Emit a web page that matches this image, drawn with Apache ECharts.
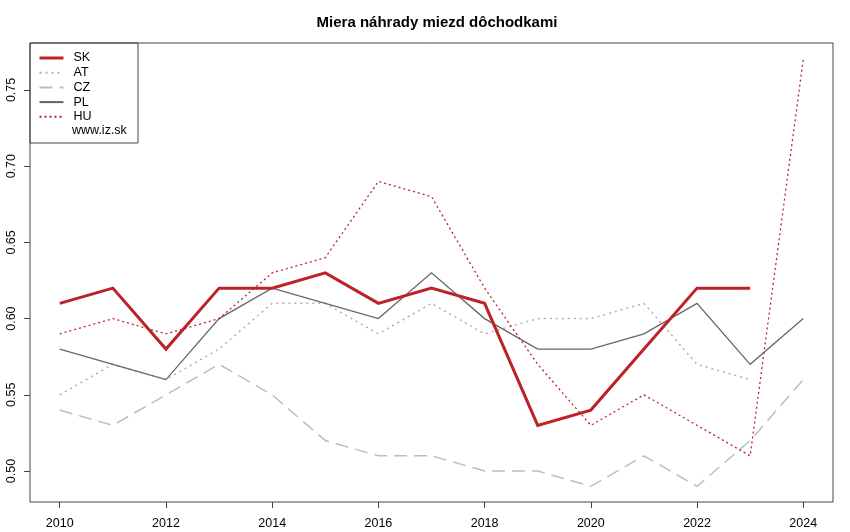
<!DOCTYPE html>
<html><head><meta charset="utf-8">
<script src="https://cdn.jsdelivr.net/npm/echarts@6/dist/echarts.min.js"></script>
<style>html,body{margin:0;padding:0;background:#fff}#c{width:850px;height:532px}</style>
</head><body><div id="c"></div>
<script>
const years = [2010,2011,2012,2013,2014,2015,2016,2017,2018,2019,2020,2021,2022,2023,2024];
const SK = [0.61,0.62,0.58,0.62,0.62,0.63,0.61,0.62,0.61,0.53,0.54,0.58,0.62,0.62,null];
const AT = [0.55,0.57,0.56,0.58,0.61,0.61,0.59,0.61,0.59,0.60,0.60,0.61,0.57,0.56,null];
const CZ = [0.54,0.53,0.55,0.57,0.55,0.52,0.51,0.51,0.50,0.50,0.49,0.51,0.49,0.52,0.56];
const PL = [0.58,0.57,0.56,0.60,0.62,0.61,0.60,0.63,0.60,0.58,0.58,0.59,0.61,0.57,0.60];
const HU = [0.59,0.60,0.59,0.60,0.63,0.64,0.69,0.68,0.62,0.57,0.53,0.55,0.53,0.51,0.77];
const xTicks = [2010,2012,2014,2016,2018,2020,2022,2024];
const yTicks = [0.50,0.55,0.60,0.65,0.70,0.75];
const title = 'Miera náhrady miezd dôchodkami';
const source = 'www.iz.sk';

const pair = arr => years.map((y,i)=>[y,arr[i]]);
const FONT = 'Liberation Sans, Arial, sans-serif';
const chart = echarts.init(document.getElementById('c'), null, {renderer:'canvas'});
function mk(name, data, color, width, type){
  return {name, type:'line', data:pair(data), showSymbol:false, symbol:'none', connectNulls:false,
    lineStyle:{color, width, type, cap:'butt', join:'miter'}, itemStyle:{color}, emphasis:{disabled:true}, z: name==='SK'?5:3};
}
chart.setOption({
  animation:false,
  backgroundColor:'#fff',
  title:{text:title, left:432, textAlign:'center', top:10,
    textStyle:{fontFamily:FONT, fontSize:15, fontWeight:'bold', color:'#000'}},
  grid:{left:30, right:17, top:43, bottom:30, show:true, borderColor:'#444', borderWidth:1, backgroundColor:'transparent'},
  xAxis:{type:'value', min:2009.44, max:2024.56,
    axisLine:{show:false}, splitLine:{show:false},
    axisTick:{show:true, customValues:xTicks, length:6, lineStyle:{color:'#444'}},
    axisLabel:{customValues:xTicks, fontFamily:FONT, fontSize:12.5, color:'#000', margin:15, formatter:v=>String(v)}},
  yAxis:{type:'value', min:0.4797, max:0.7808,
    axisLine:{show:false}, splitLine:{show:false},
    axisTick:{show:true, customValues:yTicks, length:6, lineStyle:{color:'#444'}},
    axisLabel:{customValues:yTicks, rotate:90, fontFamily:FONT, fontSize:12.5, color:'#000', margin:12,
      formatter:v=>v.toFixed(2)}},
  legend:{orient:'vertical', left:38, top:51, padding:0, itemWidth:24, itemHeight:8, itemGap:0.7, z:30,
    itemStyle:{opacity:0},
    data:[{name:'SK', lineStyle:{width:3}},'AT','CZ','PL','HU'],
    textStyle:{fontFamily:FONT, fontSize:12.5, lineHeight:14, color:'#000', padding:[0,0,0,5]}},
  graphic:[
    {type:'rect', shape:{x:30, y:43, width:108, height:100}, style:{fill:'#fff', stroke:'#444', lineWidth:1}, z:-1, silent:true},
    {type:'text', left:72, top:124, style:{text:source, fontFamily:FONT, fontSize:12.5, fill:'#000'}, z:12}
  ],
  series:[
    mk('SK', SK, '#bb2229', 3, 'solid'),
    mk('AT', AT, '#aeaeae', 1.5, [2,4]),
    mk('CZ', CZ, '#b9bec6', 1.5, [13,7]),
    mk('PL', PL, '#666666', 1.3, 'solid'),
    mk('HU', HU, '#c0202a', 1.3, [2,3])
  ]
});
</script></body></html>
